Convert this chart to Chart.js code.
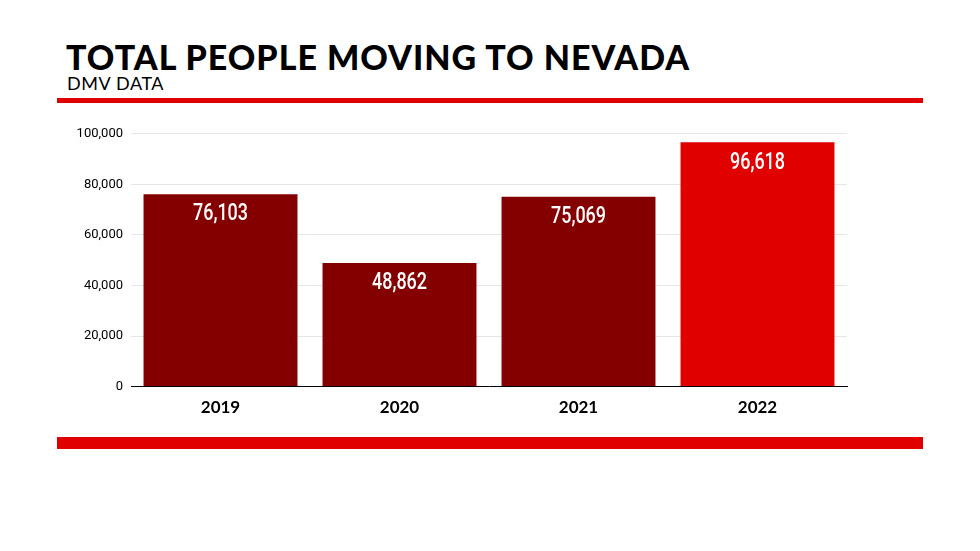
<!DOCTYPE html>
<html>
<head>
<meta charset="utf-8">
<script src="https://cdn.jsdelivr.net/npm/chart.js@4"></script>
<style>
  body { margin:0; width:980px; height:551px; background:#fff; position:relative; overflow:hidden; font-family:"Liberation Sans", Arial, sans-serif; }
  #title { position:absolute; left:66px; top:36px; font-size:34px; font-weight:900; font-family:"Lato","Liberation Sans",sans-serif; letter-spacing:1.0px; color:#000; }
  #sub { position:absolute; left:67px; top:72px; font-size:18px; font-family:"Lato",sans-serif; letter-spacing:0.6px; color:#000; }
  .rule { position:absolute; left:57px; width:866px; background:#e00000; }
  #wrap { position:absolute; left:60px; top:118px; width:800px; height:303px; }
</style>
</head>
<body>
<div id="title">TOTAL PEOPLE MOVING TO NEVADA</div>
<div id="sub">DMV DATA</div>
<div class="rule" style="top:98px;height:5px"></div>
<div class="rule" style="top:437px;height:12px"></div>
<div id="wrap"><canvas id="myChart"></canvas></div>
<script>
const years = ['2019', '2020', '2021', '2022']
const movers = [76103, 48862, 75069, 96618]
const barColors = ['#840000', '#840000', '#840000', '#e00000']

const valueLabels = {
    id: 'valueLabels',
    afterDatasetsDraw(chart) {
        const c = chart.ctx
        const meta = chart.getDatasetMeta(0)
        meta.data.forEach((bar, i) => {
            c.save()
            c.translate(bar.x, bar.y + 9)
            c.scale(0.78, 1)
            c.fillStyle = 'white'
            c.font = '500 23px "Roboto", sans-serif'
            c.textAlign = 'center'
            c.textBaseline = 'top'
            c.fillText(movers[i].toLocaleString('en-US'), 0, 0)
            c.restore()
        })
    }
}

const ctx = document.getElementById('myChart')
new Chart(ctx, {
    type: 'bar',
    data: {
        labels: years,
        datasets: [{
            data: movers,
            backgroundColor: barColors,
            barPercentage: 0.86,
            categoryPercentage: 1
        }]
    },
    options: {
        responsive: true,
        maintainAspectRatio: false,
        animation: false,
        layout: { padding: { top: 1, right: 13, bottom: 0 } },
        plugins: { legend: { display: false }, tooltip: { enabled: false } },
        scales: {
            x: {
                grid: { display: false },
                border: { color: '#000', width: 1 },
                ticks: { color: '#000', font: { size: 17, weight: 'bold', family: 'Lato' } }
            },
            y: {
                min: 0,
                max: 100000,
                afterFit: s => { s.width = 71 },
                ticks: {
                    stepSize: 20000,
                    color: '#000',
                    padding: 8,
                    font: { size: 13, family: 'Roboto' },
                    callback: v => v.toLocaleString('en-US')
                },
                grid: { color: '#e6e6e6', drawTicks: false },
                border: { display: false }
            }
        }
    },
    plugins: [valueLabels]
})
</script>
</body>
</html>
